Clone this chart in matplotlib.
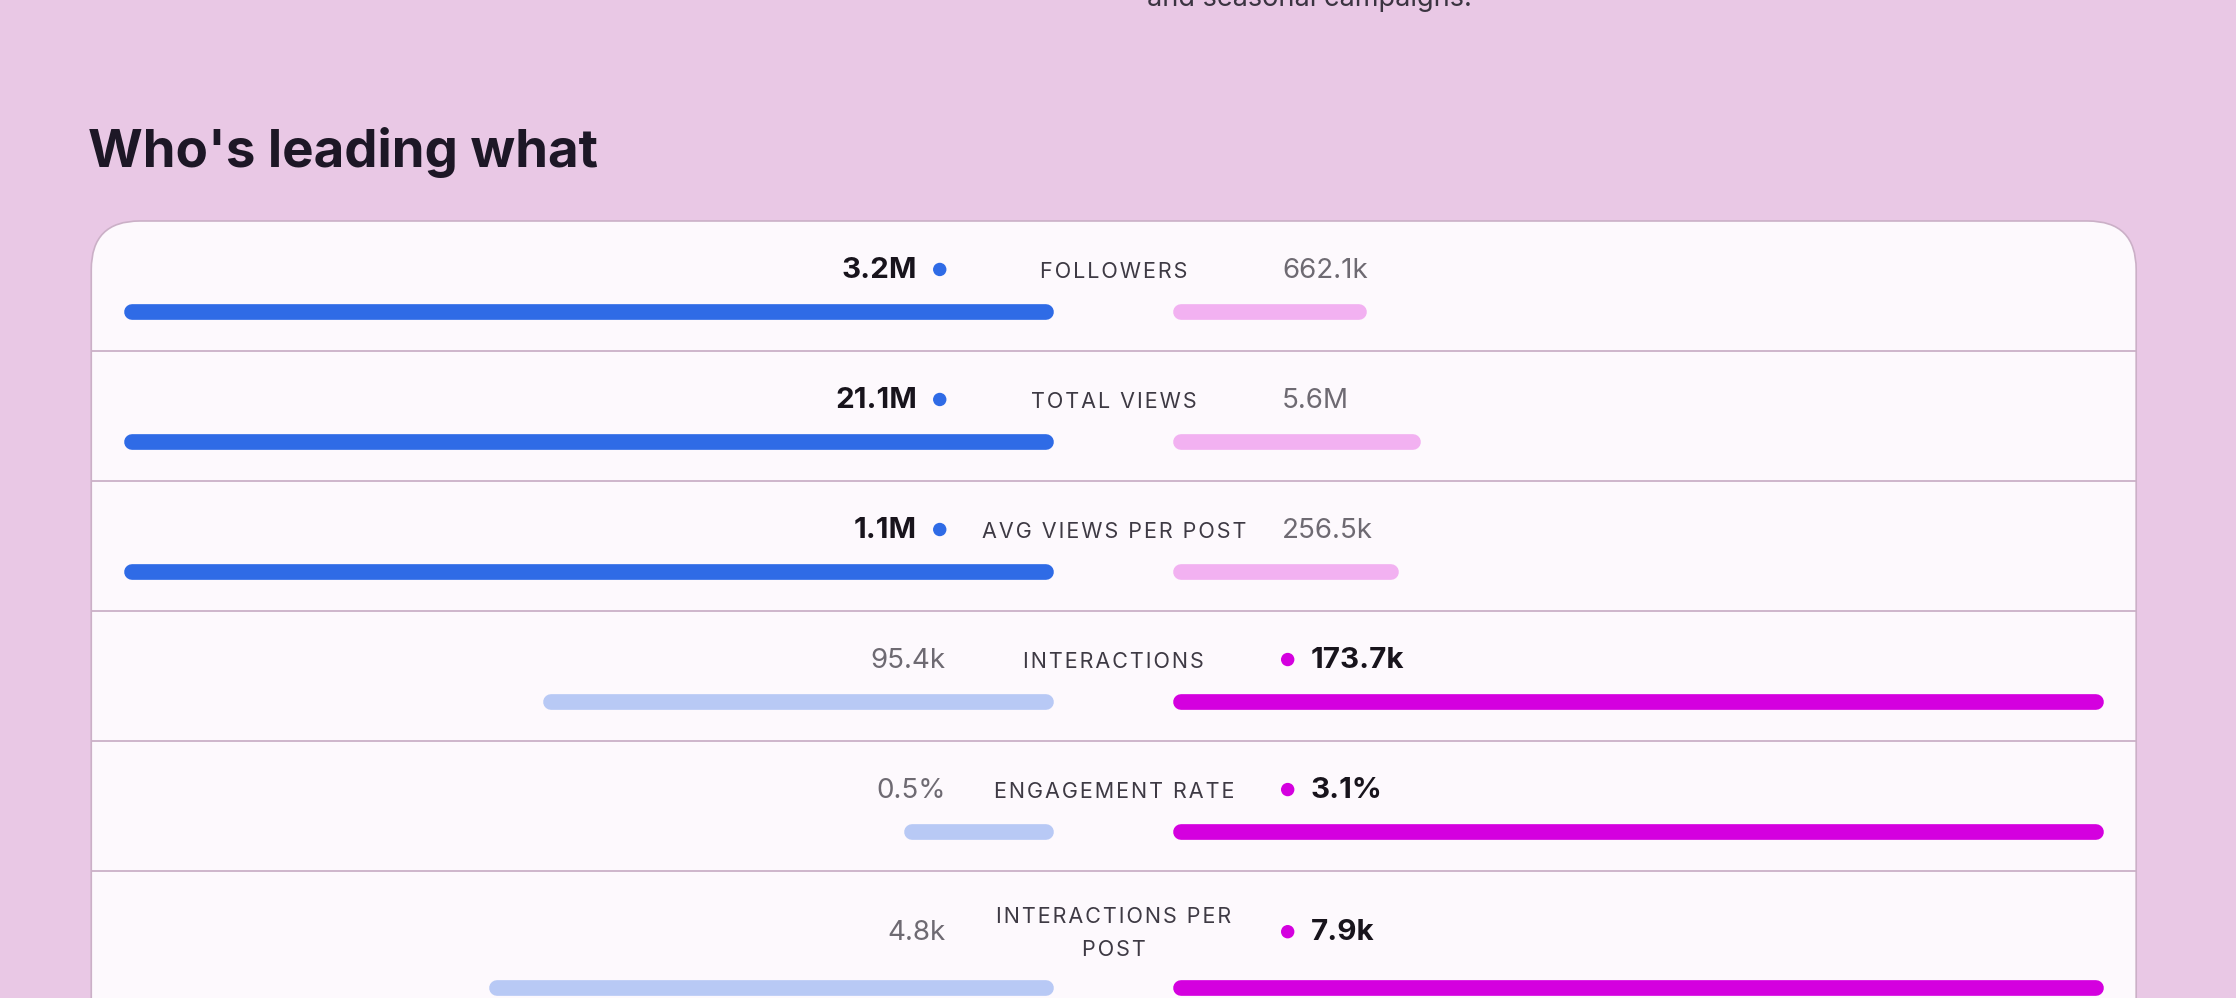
import matplotlib
matplotlib.use("Agg")
import matplotlib.pyplot as plt
from matplotlib.patches import FancyBboxPatch, Circle

# ---------------- data ----------------
metrics = ["FOLLOWERS", "TOTAL VIEWS", "AVG VIEWS PER POST", "INTERACTIONS",
           "ENGAGEMENT RATE", "INTERACTIONS PER\nPOST"]
left_values = [3.19e6, 21.1e6, 1.06e6, 95.4e3, 0.5, 4.8e3]
right_values = [662.1e3, 5.6e6, 256.5e3, 173.7e3, 3.1, 7.9e3]
left_labels = ["3.2M", "21.1M", "1.1M", "95.4k", "0.5%", "4.8k"]
right_labels = ["662.1k", "5.6M", "256.5k", "173.7k", "3.1%", "7.9k"]
title = "Who's leading what"
intro_tail = "and seasonal campaigns."

# ---------------- style ----------------
BG = "#E9C8E5"
CARD = "#FDF9FD"
BORDER = "#CBB0C7"
BLUE = "#2F6BE6"
BLUE_LIGHT = "#B8C9F5"
PINK_LIGHT = "#F2B1F1"
MAGENTA = "#D400DF"
TXT_DARK = "#18141C"
TXT_LABEL = "#3E3A44"
TXT_GRAY = "#6E6A72"
FONT = ["Inter", "DejaVu Sans"]

W, H = 1568, 700          # layout units (1 unit = 1.426 px)
PT = 2236 / W * 0.72      # points per layout unit at dpi 100


def tracked(s):
    """Uppercase label with light letter-spacing (hair spaces)."""
    return "\n".join("\u200a".join(line) for line in s.split("\n"))


fig = plt.figure(figsize=(22.36, 9.98), dpi=100)
fig.patch.set_facecolor(BG)
ax = fig.add_axes([0, 0, 1, 1])
ax.set_xlim(0, W)
ax.set_ylim(H, 0)
ax.axis("off")
ax.set_facecolor(BG)

# top clipped paragraph tail
ax.text(804, 4.5, intro_tail, fontsize=19.5, family=FONT, color="#3B3441",
        ha="left", va="baseline")

# title
ax.text(62, 117, title, fontsize=38, family=FONT, fontweight="bold",
        color="#1D1726", ha="left", va="baseline")

# card
card_l, card_r, card_t = 64, 1498, 155
card = FancyBboxPatch((card_l, card_t), card_r - card_l, 700,
                      boxstyle="round,pad=0,rounding_size=34",
                      facecolor=CARD, edgecolor=BORDER, linewidth=1.2,
                      zorder=1)
ax.add_patch(card)

row_h = 91.2
for i in range(1, len(metrics)):
    y = card_t + row_h * i
    ax.plot([card_l, card_r], [y, y], color=BORDER, linewidth=1.3, zorder=2,
            solid_capstyle="butt")

center_x = 781
left_end = 739
right_start = 823
span = 652
bar_lw = 11
cap = bar_lw / 2
dot_r = 4.2
VAL_BOLD = 21.3
VAL_REG = 20
LABEL = 15.5

for i, name in enumerate(metrics):
    top = card_t + row_h * i
    two_line = "\n" in name
    base = top + (48.5 if two_line else 40)
    mid = base - 6
    bar_y = top + (82 if two_line else 64)
    lv, rv = left_values[i], right_values[i]
    vmax = max(lv, rv)
    left_wins = lv >= rv

    # label
    if two_line:
        ax.text(center_x, top + 43.5, tracked(name), fontsize=LABEL,
                family=FONT, color=TXT_LABEL, ha="center", va="center",
                linespacing=1.8, zorder=3)
    else:
        ax.text(center_x, base, tracked(name), fontsize=LABEL, family=FONT,
                color=TXT_LABEL, ha="center", va="baseline", zorder=3)

    # bars
    llen = span * lv / vmax
    rlen = span * rv / vmax
    lcol = BLUE if left_wins else BLUE_LIGHT
    rcol = MAGENTA if not left_wins else PINK_LIGHT
    ax.plot([left_end - llen + cap, left_end - cap], [bar_y, bar_y],
            color=lcol, linewidth=bar_lw * PT, solid_capstyle="round", zorder=3)
    ax.plot([right_start + cap, right_start + rlen - cap], [bar_y, bar_y],
            color=rcol, linewidth=bar_lw * PT, solid_capstyle="round", zorder=3)

    # values
    if left_wins:
        ax.text(643, base, left_labels[i], fontsize=VAL_BOLD, family=FONT,
                fontweight="bold", color=TXT_DARK, ha="right", va="baseline",
                zorder=3)
        ax.add_patch(Circle((659, mid), dot_r, color=BLUE, zorder=3))
        ax.text(899, base, right_labels[i], fontsize=VAL_REG, family=FONT,
                color=TXT_GRAY, ha="left", va="baseline", zorder=3)
    else:
        ax.text(663, base, left_labels[i], fontsize=VAL_REG, family=FONT,
                color=TXT_GRAY, ha="right", va="baseline", zorder=3)
        ax.add_patch(Circle((903, mid), dot_r, color=MAGENTA, zorder=3))
        ax.text(919, base, right_labels[i], fontsize=VAL_BOLD, family=FONT,
                fontweight="bold", color=TXT_DARK, ha="left", va="baseline",
                zorder=3)

fig.savefig("out.png", dpi=100, facecolor=BG)
